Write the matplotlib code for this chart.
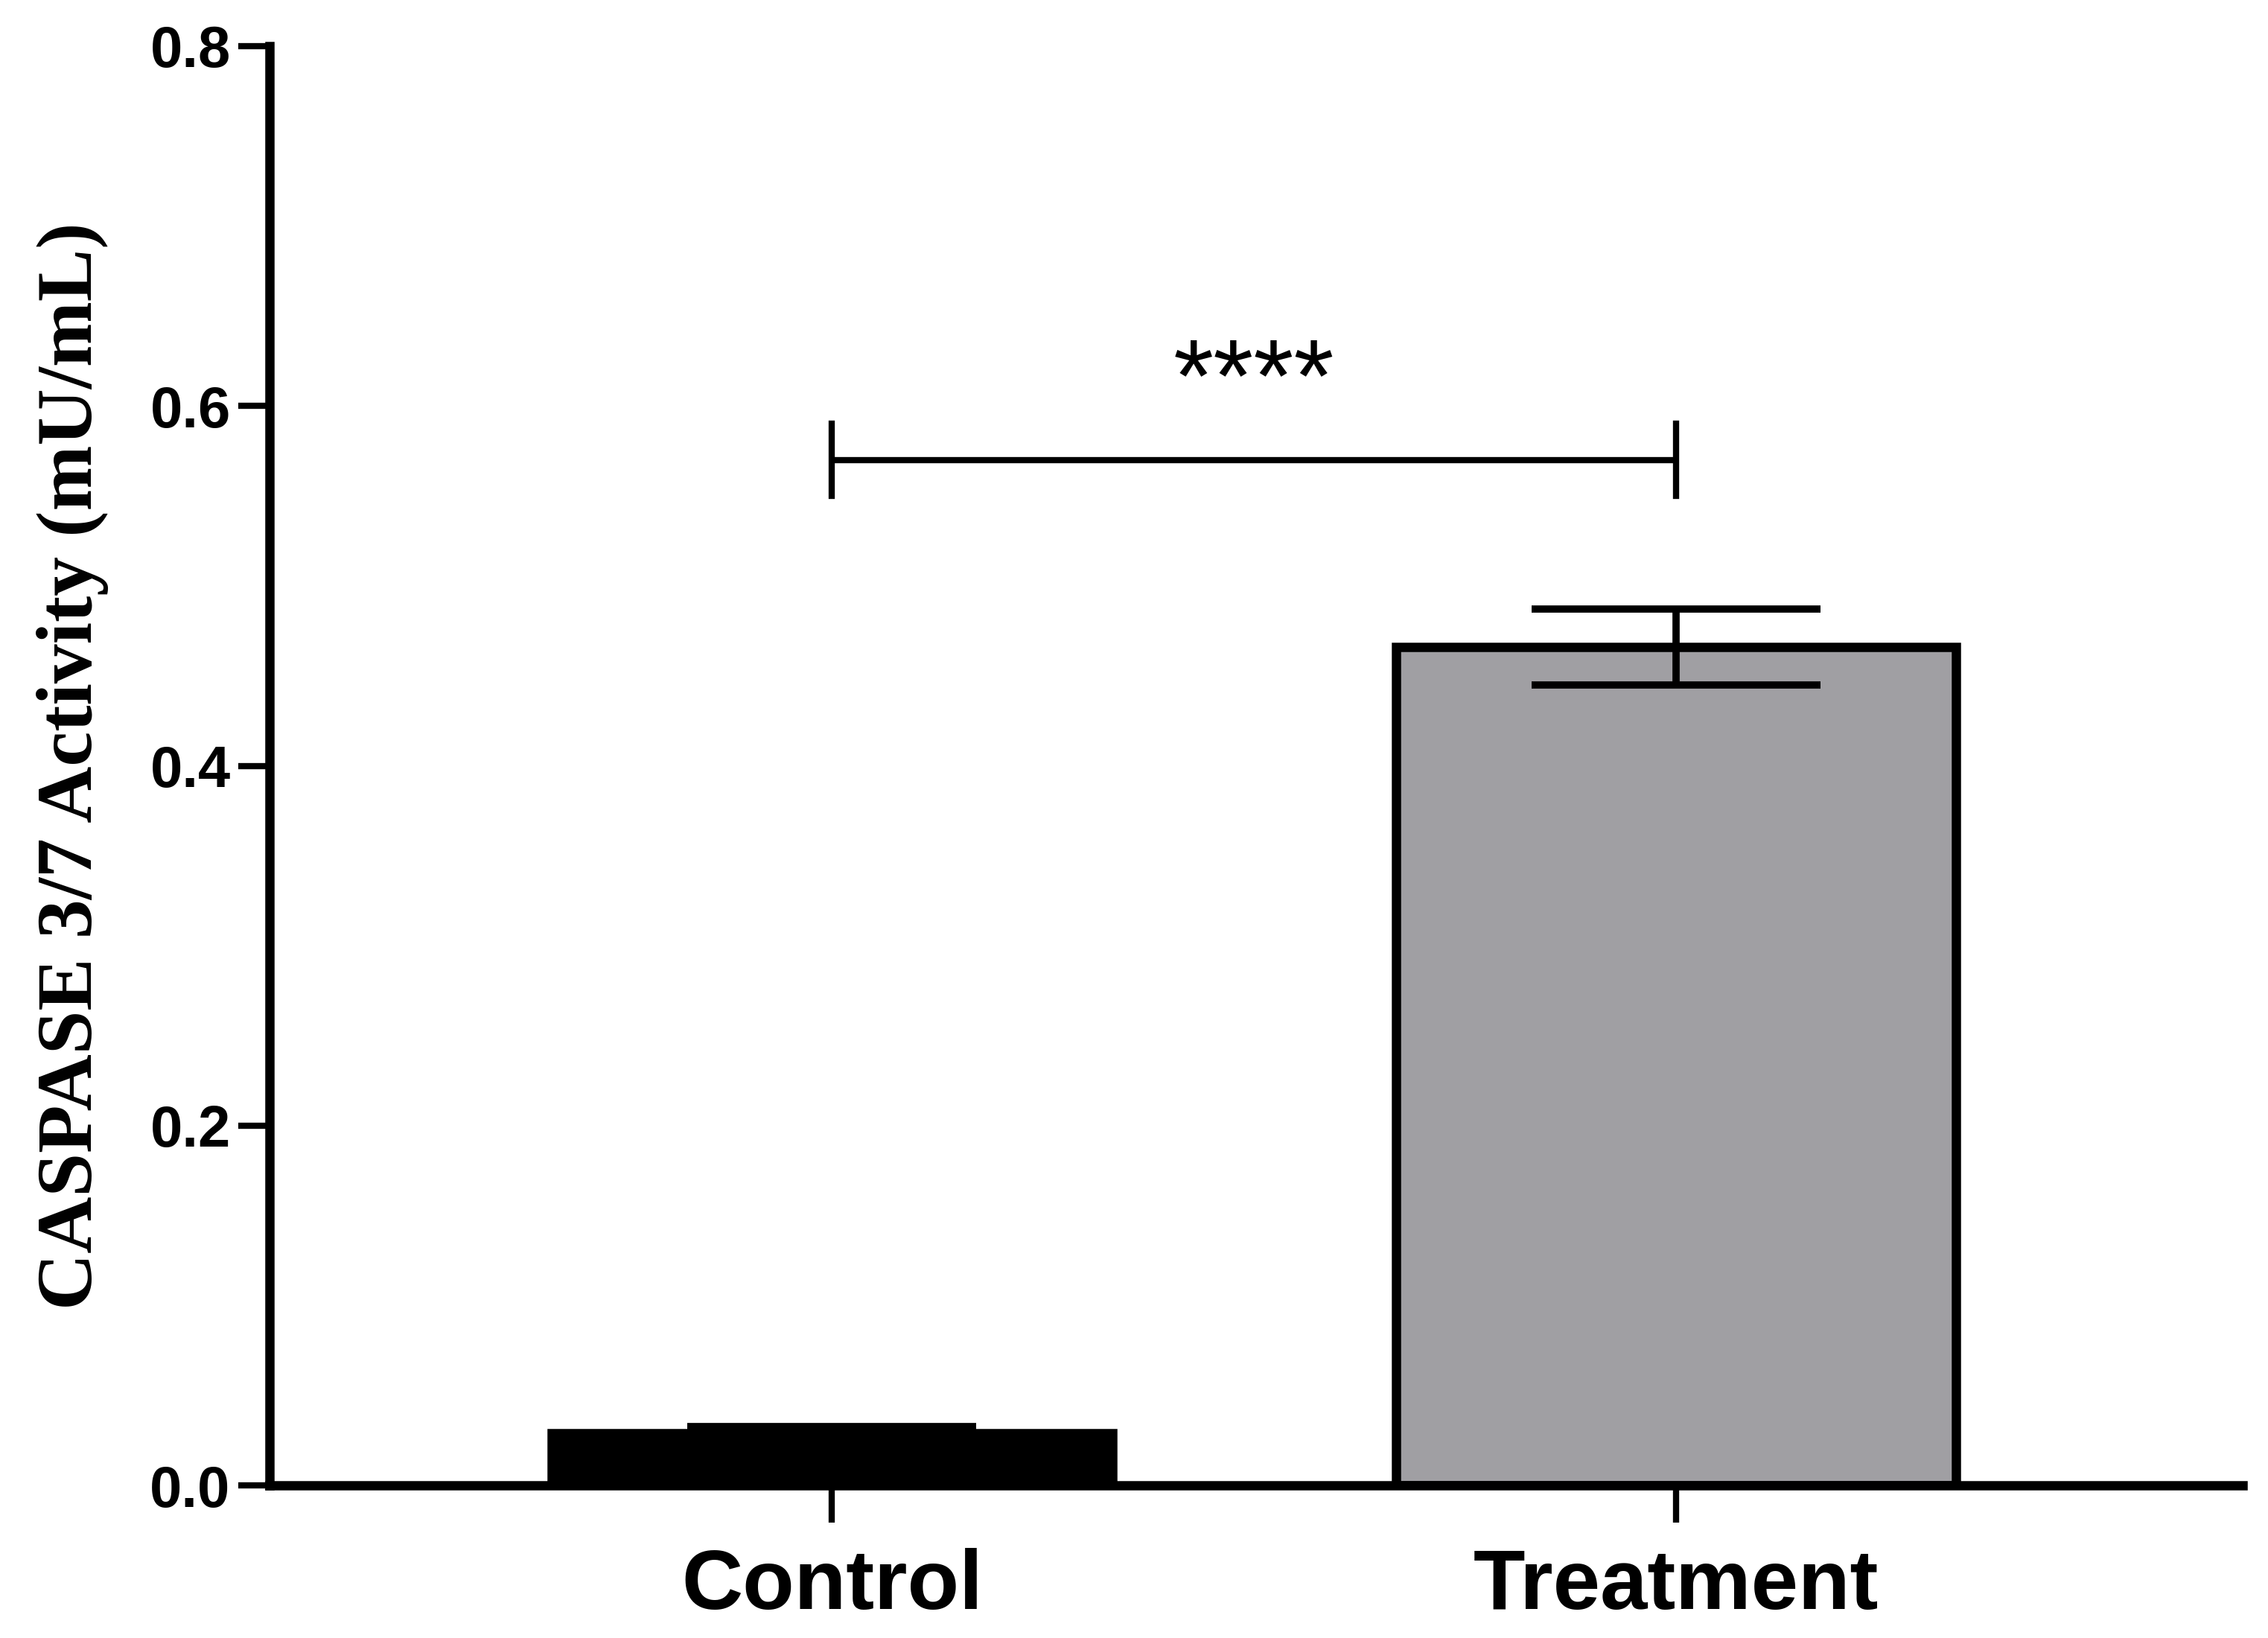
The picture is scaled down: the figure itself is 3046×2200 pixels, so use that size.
import matplotlib
matplotlib.use("Agg")
import matplotlib.pyplot as plt

groups = ["Control", "Treatment"]
means = [0.029, 0.466]
errors = [0.004, 0.021]
bar_colors = ["#000000", "#a09fa3"]
y_ticks = [0.0, 0.2, 0.4, 0.6, 0.8]
y_label = "CASPASE 3/7 Activity (mU/mL)"
sig_y = 0.570
sig_tick = 0.020
sig_text = "****"

fig = plt.figure(figsize=(15.23, 11), dpi=200)
ax = fig.add_axes([0.119, 0.093, 0.870, 0.879])

x = list(range(len(groups)))
ax.bar(x, means, width=0.664, color=bar_colors, edgecolor="black",
       linewidth=4.5, zorder=2)
ax.errorbar(x, means, yerr=errors, fmt="none", ecolor="black",
            elinewidth=3.5, capsize=70, capthick=3.5, zorder=3)

# significance bracket
ax.plot([0, 1], [sig_y, sig_y], color="black", lw=3, solid_capstyle="butt")
ax.plot([0, 0], [sig_y - sig_tick, sig_y + sig_tick], color="black", lw=3)
ax.plot([1, 1], [sig_y - sig_tick, sig_y + sig_tick], color="black", lw=3)
ax.text(0.5, 0.585, sig_text, ha="center", va="bottom",
        fontsize=50, family="Liberation Sans")

ax.set_xlim(-0.666, 1.672)
ax.set_ylim(0, 0.8)
ax.set_yticks(y_ticks)
ax.set_yticklabels([f"{v:.1f}" for v in y_ticks], fontsize=28,
                   fontweight="bold", family="Liberation Sans")
ax.set_xticks(x)
ax.set_xticklabels(groups, fontsize=41, fontweight="bold",
                   family="Liberation Sans")
ax.set_ylabel(y_label, fontsize=38, fontweight="bold",
              family="Liberation Serif", labelpad=20)

for side in ["top", "right"]:
    ax.spines[side].set_visible(False)
for side in ["left", "bottom"]:
    ax.spines[side].set_linewidth(4.5)
ax.tick_params(axis="y", length=15, width=3, pad=4)
ax.tick_params(axis="x", length=18, width=3, pad=12)

fig.savefig("out.png", dpi=200)
